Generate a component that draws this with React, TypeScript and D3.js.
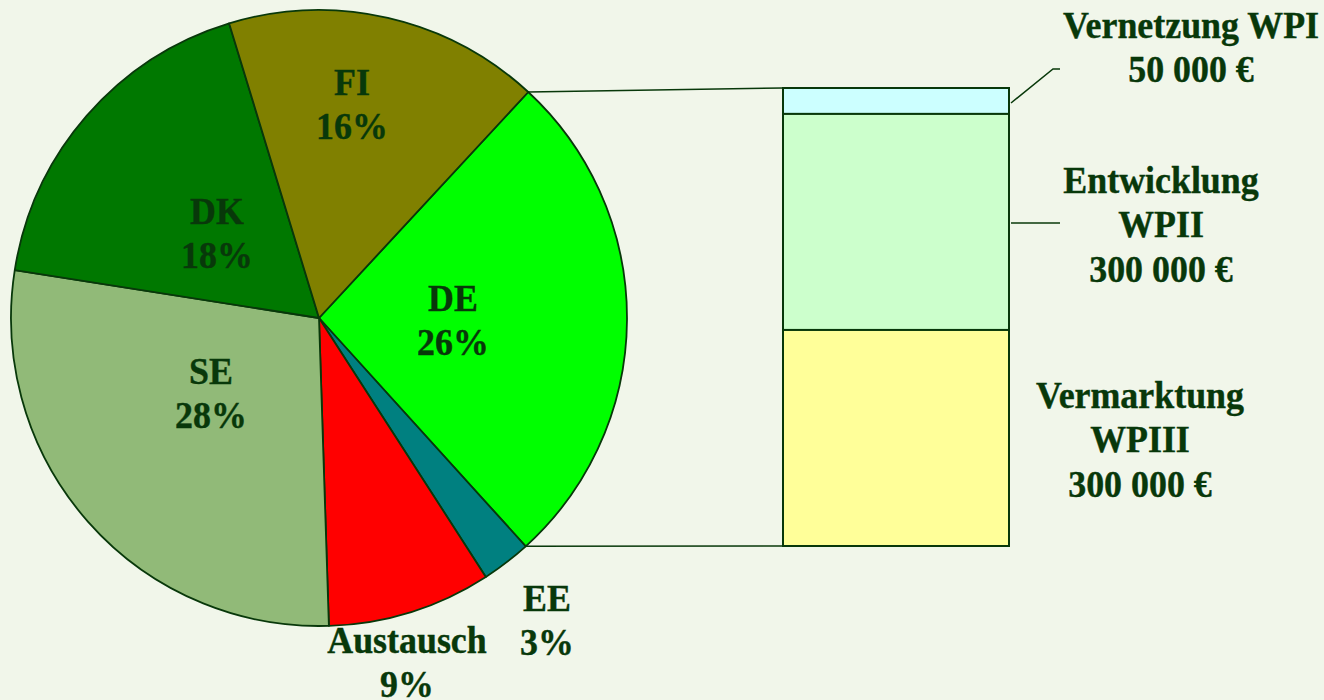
import React from "react";
import * as d3 from "d3";

// Pie data (shares in %)
const pieCategories = ["DE", "EE", "Austausch", "SE", "DK", "FI"];
const pieValues = [26.4, 2.6, 8.6, 28.0, 17.8, 16.6];
const pieLabels = ["26%", "3%", "9%", "28%", "18%", "16%"];
const pieColors = ["#00FF00", "#008080", "#FF0000", "#91BA78", "#007800", "#808000"];

// Bar (breakdown of DE) – segment sizes
const barCategories = ["Vernetzung WPI", "Entwicklung WPII", "Vermarktung WPIII"];
const barValues = [36000, 300000, 300000];
const barColors = ["#CCFFFF", "#CCFFCC", "#FFFF99"];
const barLabelLines = [
  ["Vernetzung WPI", "50 000 €"],
  ["Entwicklung", "WPII", "300 000 €"],
  ["Vermarktung", "WPIII", "300 000 €"],
];

const W = 1324;
const H = 700;
const BG = "#F1F6EA";
const INK = "#08380A";

const cx = 319;
const cy = 318;
const R = 308;
const startAngle = (42.8 * Math.PI) / 180;

const barX0 = 783;
const barX1 = 1009;
const barTop = 88;
const barBottom = 546;

// label positions (center x, first baseline y)
const pieLabelPos: [number, number][] = [
  [453, 311],
  [547, 611],
  [407, 653],
  [211, 384],
  [217, 224],
  [352, 95],
];
const barLabelPos: [number, number][] = [
  [1191, 38],
  [1161, 193],
  [1140, 408],
];
const LINE = 44.5;

function Label({ x, y, lines }: { x: number; y: number; lines: string[] }) {
  return (
    <g transform={`translate(${x},${y}) scale(0.97,1)`}>
      {lines.map((t, i) => (
        <text
          key={i}
          x={0}
          y={i * LINE}
          textAnchor="middle"
          fontFamily="'Liberation Serif', 'Times New Roman', serif"
          fontWeight="bold"
          fontSize={37}
          fill={INK}
          stroke={INK}
          strokeWidth={0.4}
        >
          {t}
        </text>
      ))}
    </g>
  );
}

export default function App() {
  const pie = d3
    .pie<number>()
    .sort(null)
    .startAngle(startAngle)
    .endAngle(startAngle + 2 * Math.PI)(pieValues);
  const arc = d3.arc<d3.PieArcDatum<number>>().innerRadius(0).outerRadius(R);

  const total = d3.sum(barValues);
  const y = d3.scaleLinear().domain([0, total]).range([barTop, barBottom]);
  let acc = 0;
  const segs = barValues.map((v, i) => {
    const s = { y0: y(acc), y1: y(acc + v), color: barColors[i], name: barCategories[i] };
    acc += v;
    return s;
  });

  const de = pie[0];
  const pt = (a: number) => [cx + R * Math.sin(a), cy - R * Math.cos(a)];
  const [ax, ay] = pt(de.startAngle);
  const [bx, by] = pt(de.endAngle);

  const leader1 = d3.line()([
    [barX1 + 2, segs[0].y0 + (segs[0].y1 - segs[0].y0) / 2 + 2],
    [1053, 69],
    [1060, 69],
  ]);
  const leader2Y = (segs[1].y0 + segs[1].y1) / 2 + 1;

  return (
    <svg
      width={W}
      height={H}
      style={{ position: "fixed", left: 0, top: 0, background: BG }}
    >
      <rect x={0} y={0} width={W} height={H} fill={BG} />
      <g transform={`translate(${cx},${cy})`}>
        {pie.map((d, i) => (
          <path
            key={pieCategories[i]}
            d={arc(d) || ""}
            fill={pieColors[i]}
            stroke={INK}
            strokeWidth={1.8}
            strokeLinejoin="round"
          />
        ))}
      </g>
      {/* connector lines */}
      <line x1={ax} y1={ay} x2={barX0} y2={barTop} stroke={INK} strokeWidth={1.5} />
      <line x1={bx} y1={by} x2={barX0} y2={barBottom} stroke={INK} strokeWidth={1.5} />
      {/* bar */}
      {segs.map((s) => (
        <rect
          key={s.name}
          x={barX0}
          y={s.y0}
          width={barX1 - barX0}
          height={s.y1 - s.y0}
          fill={s.color}
          stroke={INK}
          strokeWidth={2}
        />
      ))}
      <path d={leader1 || ""} fill="none" stroke={INK} strokeWidth={1.5} />
      <line x1={barX1 + 2} y1={leader2Y} x2={1060} y2={leader2Y} stroke={INK} strokeWidth={1.5} />
      {pieCategories.map((c, i) => (
        <Label key={c} x={pieLabelPos[i][0]} y={pieLabelPos[i][1]} lines={[c, pieLabels[i]]} />
      ))}
      {barLabelLines.map((lines, i) => (
        <Label key={i} x={barLabelPos[i][0]} y={barLabelPos[i][1]} lines={lines} />
      ))}
    </svg>
  );
}
